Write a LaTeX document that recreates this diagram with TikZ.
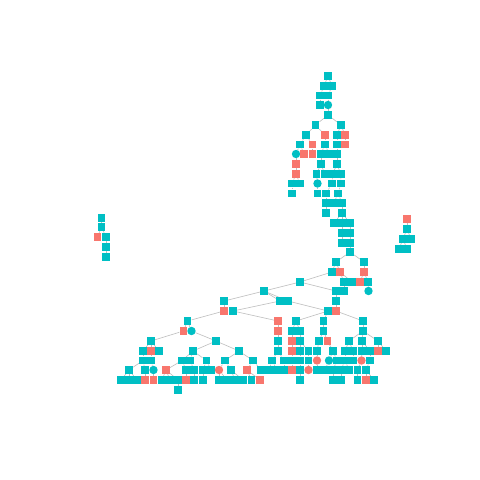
\documentclass[tikz,border=0pt]{standalone}
\usetikzlibrary{backgrounds}
\definecolor{tealc}{HTML}{00BFC4}
\definecolor{redc}{HTML}{F8766D}
\definecolor{edgec}{HTML}{BEBEBE}
\tikzset{
  ts/.style={rectangle, fill=tealc, minimum size=7.8pt, inner sep=0pt},
  rs/.style={rectangle, fill=redc, minimum size=7.8pt, inner sep=0pt},
  tc/.style={circle, fill=tealc, minimum size=8.4pt, inner sep=0pt},
  rc/.style={circle, fill=redc, minimum size=8.4pt, inner sep=0pt},
  edge/.style={draw=edgec, line width=0.6pt}
}
\newcommand{\nT}[3]{\node[ts] (#1) at (#2,#3) {};}
\newcommand{\nR}[3]{\node[rs] (#1) at (#2,#3) {};}
\newcommand{\nTc}[3]{\node[tc] (#1) at (#2,#3) {};}
\newcommand{\nRc}[3]{\node[rc] (#1) at (#2,#3) {};}
\newcommand{\ed}[2]{\draw[edge] (#1) -- (#2);}
\begin{document}
\begin{tikzpicture}[x=1pt,y=-1pt]
\useasboundingbox (0,0) rectangle (480,480);
% ---------- nodes ----------
\nT{r1c328}{328}{76}
\nT{r2c324}{324}{86} \nT{r2c332}{332}{86}
\nT{r3c320}{320}{95.5} \nT{r3c328}{328}{95.5}
\nT{r4c320}{320}{105} \nTc{r4c328}{328}{105}
\nT{r5c328}{328}{115}
\nT{r6c315}{315.5}{125} \nT{r6c341}{341}{125}
\nT{r7c306}{306}{135} \nR{r7c325}{325}{135} \nT{r7c337}{337}{135} \nR{r7c345}{345}{135}
\nT{r8c300}{300}{144.5} \nR{r8c312}{312.5}{144.5} \nT{r8c325}{325}{144.5} \nT{r8c337}{337}{144.5} \nR{r8c345}{345}{144.5}
\nTc{r9c296}{296}{154} \nR{r9c304}{304}{154} \nR{r9c312}{312.5}{154} \nT{r9c321}{321}{154} \nT{r9c329}{329}{154} \nT{r9c337}{337}{154}
\nR{r10c296}{296}{164} \nT{r10c321}{321}{164} \nT{r10c337}{337}{164}
\nR{r11c296}{296}{174} \nT{r11c316}{316.5}{174} \nT{r11c325}{324.7}{174} \nT{r11c333}{332.7}{174} \nT{r11c341}{340.7}{174}
\nT{r12c292}{292}{183.5} \nT{r12c300}{300}{183.5} \nTc{r12c317}{317.5}{183.5} \nT{r12c332}{332}{183.5} \nT{r12c341}{341}{183.5}
\nT{r13c292}{292}{193.5} \nT{r13c317}{317.5}{193.5} \nT{r13c326}{326}{193.5} \nT{r13c338}{338}{193.5}
\nT{r14c326}{326}{203} \nT{r14c334}{334}{203} \nT{r14c342}{342}{203}
\nT{r15c326}{326}{213} \nT{r15c342}{342}{213}
\nT{r16c334}{334}{223} \nT{r16c342}{342}{223} \nT{r16c350}{350}{223}
\nT{r17c342}{342}{233} \nT{r17c350}{350}{233}
\nT{r18c342}{342}{243} \nT{r18c350}{350}{243}
\nT{r19c350}{350}{252}
\nT{r20c336}{336}{262} \nT{r20c364}{364}{262}
\nT{r21c332}{332}{272} \nR{r21c340}{340}{272} \nR{r21c364}{364}{272}
\nT{r22c300}{300}{282} \nT{r22c344}{344}{282} \nT{r22c352}{352}{282} \nR{r22c360}{360}{282} \nT{r22c368}{368}{282}
\nT{r23c264}{264}{291} \nT{r23c336}{336}{291} \nT{r23c344}{344}{291} \nTc{r23c368}{368.5}{291}
\nT{r24c224}{224}{301} \nT{r24c280}{280}{301} \nT{r24c288}{288}{301} \nT{r24c336}{336}{301}
\nR{r25c224}{224}{311} \nT{r25c233}{233}{311} \nT{r25c328}{328}{311} \nR{r25c336}{336}{311}
\nT{r26c187}{187.5}{321} \nR{r26c278}{278}{321} \nT{r26c296}{296}{321} \nT{r26c323}{323.5}{321} \nT{r26c363}{363}{321}
\nR{r27c183}{183.5}{331} \nTc{r27c191}{191.5}{331} \nR{r27c278}{278}{331} \nT{r27c292}{292}{331} \nT{r27c300}{300}{331} \nT{r27c323}{323.5}{331} \nT{r27c363}{363}{331}
\nT{r28c151}{151}{341} \nT{r28c216}{216}{341} \nT{r28c278}{278}{341} \nR{r28c292}{292}{341} \nT{r28c300}{300}{341} \nT{r28c319}{319}{341} \nR{r28c327}{327.5}{341} \nT{r28c349}{349}{341} \nT{r28c362}{362}{341} \nT{r28c378}{378}{341}
\nT{r29c143}{143}{351} \nR{r29c151}{151}{351} \nT{r29c159}{159}{351} \nT{r29c193}{193}{351} \nT{r29c239}{239}{351} \nT{r29c278}{278}{351} \nR{r29c292}{292}{351} \nT{r29c300}{300}{351} \nT{r29c308}{308.5}{351} \nT{r29c317}{317}{351} \nT{r29c333}{333}{351} \nT{r29c345}{345}{351} \nT{r29c353}{353}{351} \nT{r29c362}{362}{351} \nT{r29c370}{370}{351} \nR{r29c378}{378}{351} \nT{r29c386}{386}{351}
\nT{r30c143}{143}{360.5} \nT{r30c151}{151}{360.5} \nT{r30c182}{182}{360.5} \nT{r30c190}{190}{360.5} \nT{r30c206}{206.5}{360.5} \nT{r30c225}{225}{360.5} \nT{r30c253}{253}{360.5} \nT{r30c272}{272}{360.5} \nT{r30c284}{284}{360.5} \nT{r30c292}{292}{360.5} \nT{r30c300}{300}{360.5} \nT{r30c308}{308.5}{360.5} \nRc{r30c317}{317}{360.5} \nTc{r30c329}{329}{360.5} \nT{r30c337}{337}{360.5} \nT{r30c345}{345}{360.5} \nT{r30c353}{353}{360.5} \nRc{r30c361}{361.5}{360.5} \nT{r30c370}{370}{360.5}
\nT{r31c129}{129}{370} \nT{r31c145}{145}{370} \nTc{r31c153}{153.5}{370} \nR{r31c166}{166}{370} \nT{r31c186}{186}{370} \nT{r31c194}{194}{370} \nT{r31c203}{203}{370} \nT{r31c211}{211}{370} \nRc{r31c219}{219}{370} \nT{r31c231}{231}{370} \nR{r31c247}{247}{370} \nT{r31c261}{261}{370} \nT{r31c269}{269}{370} \nT{r31c277}{277}{370} \nT{r31c284}{284}{370} \nR{r31c292}{292}{370} \nT{r31c300}{300}{370} \nRc{r31c308}{308.5}{370} \nT{r31c317}{317}{370} \nT{r31c325}{325}{370} \nT{r31c333}{333}{370} \nT{r31c341}{341}{370} \nT{r31c349}{349}{370} \nT{r31c357}{357.5}{370} \nT{r31c366}{366}{370}
\nT{r32c121}{121}{380} \nT{r32c129}{129}{380} \nT{r32c137}{137}{380} \nR{r32c145}{145}{380} \nR{r32c153}{153.5}{380} \nT{r32c162}{162}{380} \nT{r32c170}{170}{380} \nT{r32c178}{178}{380} \nR{r32c186}{186}{380} \nT{r32c194}{194}{380} \nT{r32c203}{203}{380} \nT{r32c219}{219}{380} \nT{r32c227}{227}{380} \nT{r32c235}{235}{380} \nT{r32c243}{243}{380} \nT{r32c251}{251.5}{380} \nR{r32c260}{260}{380} \nT{r32c300}{300}{380} \nT{r32c333}{333}{380} \nT{r32c341}{341}{380} \nT{r32c357}{357.5}{380} \nR{r32c366}{366}{380} \nT{r32c374}{374}{380}
\nT{r33c178}{178}{390}
% left group
\nT{la}{101.5}{218} \nT{lb}{101.5}{227} \nR{lc}{97.5}{237} \nT{ld}{106}{237} \nT{le}{106}{247} \nT{lf}{106}{257}
% right group
\nR{qa}{407}{219} \nT{qb}{407}{229} \nT{qc}{403}{239} \nT{qd}{411}{239} \nT{qe}{399}{249} \nT{qf}{407}{249}
% ---------- edges ----------
\begin{scope}[on background layer]
\fill[white] (0,0) rectangle (480,480);
\ed{r1c328}{r2c324} \ed{r1c328}{r2c332}
\ed{r2c324}{r3c320} \ed{r2c332}{r3c328}
\ed{r3c320}{r4c320} \ed{r3c328}{r4c328}
\ed{r4c328}{r5c328}
\ed{r5c328}{r6c315} \ed{r5c328}{r6c341}
\ed{r6c315}{r7c306} \ed{r6c315}{r7c325} \ed{r6c341}{r7c337} \ed{r6c341}{r7c345}
\ed{r7c306}{r8c300} \ed{r7c306}{r8c312} \ed{r7c325}{r8c325} \ed{r7c337}{r8c337} \ed{r7c345}{r8c345}
\ed{r8c300}{r9c296} \ed{r8c300}{r9c304} \ed{r8c312}{r9c312} \ed{r8c325}{r9c321} \ed{r8c325}{r9c329} \ed{r8c337}{r9c337}
\ed{r9c296}{r10c296} \ed{r9c321}{r10c321} \ed{r9c337}{r10c337}
\ed{r10c296}{r11c296} \ed{r10c321}{r11c316} \ed{r10c321}{r11c325} \ed{r10c337}{r11c333} \ed{r10c337}{r11c341}
\ed{r11c296}{r12c292} \ed{r11c296}{r12c300} \ed{r11c316}{r12c317} \ed{r11c333}{r12c332} \ed{r11c341}{r12c341}
\ed{r12c292}{r13c292} \ed{r12c317}{r13c317} \ed{r12c332}{r13c326} \ed{r12c341}{r13c338}
\ed{r13c326}{r14c326} \ed{r13c338}{r14c334} \ed{r13c338}{r14c342}
\ed{r14c326}{r15c326} \ed{r14c342}{r15c342}
\ed{r15c342}{r16c334} \ed{r15c342}{r16c342} \ed{r15c342}{r16c350}
\ed{r16c342}{r17c342} \ed{r16c350}{r17c350}
\ed{r17c342}{r18c342} \ed{r17c350}{r18c350}
\ed{r18c350}{r19c350}
\ed{r19c350}{r20c336} \ed{r19c350}{r20c364}
\ed{r20c336}{r21c332} \ed{r20c336}{r21c340} \ed{r20c364}{r21c364}
\ed{r21c332}{r22c300} \ed{r21c340}{r22c344} \ed{r21c340}{r22c352} \ed{r21c364}{r22c360} \ed{r21c364}{r22c368}
\ed{r22c300}{r23c264} \ed{r22c300}{r23c336} \ed{r22c344}{r23c344} \ed{r22c368}{r23c368}
\ed{r23c264}{r24c224} \ed{r23c264}{r24c280} \ed{r23c264}{r24c288} \ed{r23c336}{r24c336}
\ed{r24c224}{r25c224} \ed{r24c280}{r25c233} \ed{r24c288}{r25c328} \ed{r24c336}{r25c336}
\ed{r25c224}{r26c187} \ed{r25c233}{r26c278} \ed{r25c328}{r26c296} \ed{r25c328}{r26c323} \ed{r25c336}{r26c363}
\ed{r26c187}{r27c183} \ed{r26c187}{r27c191} \ed{r26c278}{r27c278} \ed{r26c296}{r27c292} \ed{r26c296}{r27c300} \ed{r26c323}{r27c323} \ed{r26c363}{r27c363}
\ed{r27c183}{r28c151} \ed{r27c191}{r28c216} \ed{r27c278}{r28c278} \ed{r27c292}{r28c292} \ed{r27c300}{r28c300} \ed{r27c323}{r28c319} \ed{r27c323}{r28c327} \ed{r27c363}{r28c349} \ed{r27c363}{r28c362} \ed{r27c363}{r28c378}
\ed{r28c151}{r29c143} \ed{r28c151}{r29c151} \ed{r28c151}{r29c159} \ed{r28c216}{r29c193} \ed{r28c216}{r29c239} \ed{r28c278}{r29c278} \ed{r28c292}{r29c292} \ed{r28c300}{r29c300} \ed{r28c300}{r29c308} \ed{r28c319}{r29c317} \ed{r28c327}{r29c333} \ed{r28c349}{r29c345} \ed{r28c349}{r29c353} \ed{r28c362}{r29c362} \ed{r28c362}{r29c370} \ed{r28c378}{r29c378} \ed{r28c378}{r29c386}
\ed{r29c143}{r30c143} \ed{r29c151}{r30c151} \ed{r29c193}{r30c182} \ed{r29c193}{r30c190} \ed{r29c193}{r30c206} \ed{r29c239}{r30c225} \ed{r29c239}{r30c253} \ed{r29c278}{r30c272} \ed{r29c278}{r30c284} \ed{r29c292}{r30c292} \ed{r29c300}{r30c300} \ed{r29c308}{r30c308} \ed{r29c317}{r30c317} \ed{r29c333}{r30c329} \ed{r29c333}{r30c337} \ed{r29c345}{r30c345} \ed{r29c353}{r30c353} \ed{r29c362}{r30c361} \ed{r29c370}{r30c370}
\ed{r30c143}{r31c129} \ed{r30c143}{r31c145} \ed{r30c151}{r31c153} \ed{r30c182}{r31c166} \ed{r30c182}{r31c186} \ed{r30c190}{r31c194} \ed{r30c206}{r31c203} \ed{r30c206}{r31c211} \ed{r30c225}{r31c219} \ed{r30c225}{r31c231} \ed{r30c253}{r31c247} \ed{r30c253}{r31c261} \ed{r30c272}{r31c269} \ed{r30c272}{r31c277} \ed{r30c284}{r31c284} \ed{r30c292}{r31c292} \ed{r30c300}{r31c300} \ed{r30c308}{r31c308} \ed{r30c317}{r31c317} \ed{r30c329}{r31c325} \ed{r30c337}{r31c333} \ed{r30c345}{r31c341} \ed{r30c345}{r31c349} \ed{r30c361}{r31c357} \ed{r30c370}{r31c366}
\ed{r31c129}{r32c121} \ed{r31c129}{r32c129} \ed{r31c129}{r32c137} \ed{r31c145}{r32c145} \ed{r31c153}{r32c153} \ed{r31c166}{r32c162} \ed{r31c166}{r32c170} \ed{r31c166}{r32c178} \ed{r31c186}{r32c186} \ed{r31c194}{r32c194} \ed{r31c203}{r32c203} \ed{r31c219}{r32c219} \ed{r31c219}{r32c227} \ed{r31c231}{r32c235} \ed{r31c231}{r32c243} \ed{r31c247}{r32c251} \ed{r31c247}{r32c260} \ed{r31c300}{r32c300} \ed{r31c333}{r32c333} \ed{r31c341}{r32c341} \ed{r31c357}{r32c357} \ed{r31c366}{r32c366} \ed{r31c366}{r32c374}
\ed{r32c178}{r33c178}
\ed{la}{lb} \ed{lb}{lc} \ed{lb}{ld} \ed{ld}{le} \ed{le}{lf}
\ed{qa}{qb} \ed{qb}{qc} \ed{qb}{qd} \ed{qc}{qe} \ed{qc}{qf}
\end{scope}
\end{tikzpicture}
\end{document}
